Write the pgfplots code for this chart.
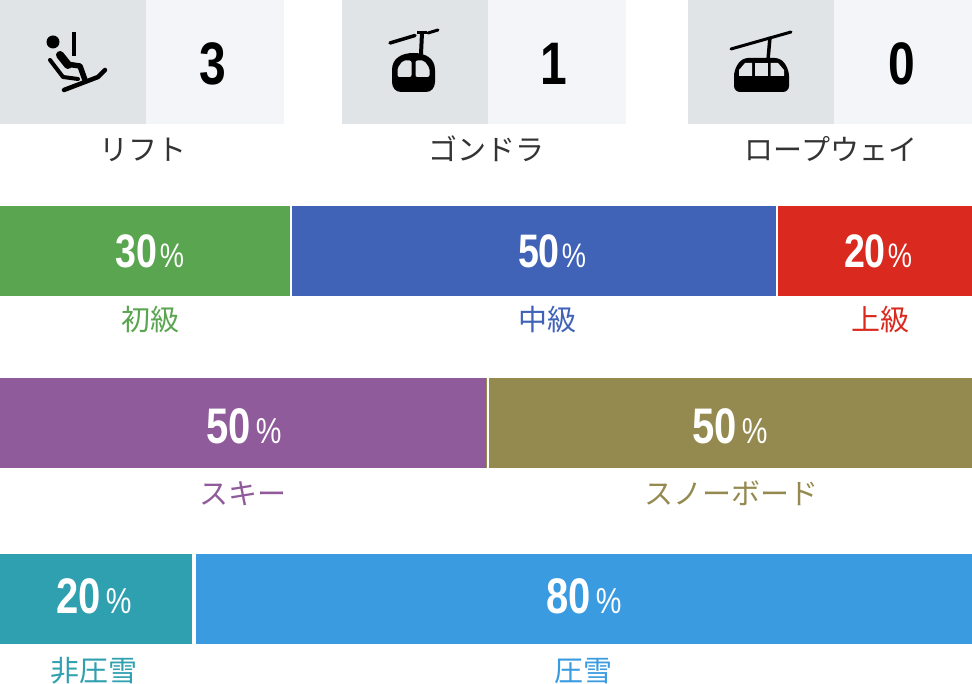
\documentclass[border=0pt]{standalone}
\usepackage{pgfplots}
\pgfplotsset{compat=1.18}
\usepackage{fontspec}
\setmainfont{Liberation Sans}
\newfontfamily\narrow[FakeStretch=0.8]{Liberation Sans}
\newfontfamily\cjk{Noto Sans CJK JP}
\definecolor{cGreen}{HTML}{5AA54F}
\definecolor{cBlue}{HTML}{4063B8}
\definecolor{cRed}{HTML}{DA291F}
\definecolor{cPurple}{HTML}{8F5B9A}
\definecolor{cOlive}{HTML}{948A50}
\definecolor{cTeal}{HTML}{2FA0AF}
\definecolor{cSky}{HTML}{3A9BE0}
\definecolor{tileD}{HTML}{E1E4E7}
\definecolor{tileL}{HTML}{F3F5F8}
\definecolor{txt}{HTML}{333333}
\pgfplotsset{
  rowbar/.style={
    at={(0pt,#1)}, anchor=south west, scale only axis, width=972pt, height=90pt,
    xmin=0, xmax=100, ymin=-0.5, ymax=0.5, hide axis, xbar stacked, bar width=90pt,
  }
}
\newcommand{\pct}[6]{% x, y, number, gap, %size, digit size
  \node[anchor=base, inner sep=0pt, text=white] at (axis cs:#1,#2)
    {\narrow\fontsize{#6}{#6}\selectfont\bfseries #3\hspace{#4}\fontsize{#5}{#5}\selectfont\mdseries\%};}
\newcommand{\lab}[4]{%
  \node[anchor=base, inner sep=0pt, text=#4] at (axis cs:#1,#2)
    {\cjk\fontsize{29}{29}\selectfont #3};}
\newcommand{\tilenum}[2]{%
  \node[anchor=base, inner sep=0pt, text=black] at (axis cs:#1,84.5)
    {\narrow\fontsize{60}{60}\selectfont\bfseries #2};}
\begin{document}
\begin{tikzpicture}
\path[use as bounding box] (0,0) rectangle (972pt,684pt);
% difficulty
\begin{axis}[rowbar=388pt]
\addplot[fill=cGreen, draw=none] coordinates {(30,0)};
\addplot[fill=cBlue, draw=none] coordinates {(50,0)};
\addplot[fill=cRed, draw=none] coordinates {(20,0)};
\end{axis}
% ski / snowboard
\begin{axis}[rowbar=216pt]
\addplot[fill=cPurple, draw=none] coordinates {(50,0)};
\addplot[fill=cOlive, draw=none] coordinates {(50,0)};
\end{axis}
% groomed
\begin{axis}[rowbar=40pt]
\addplot[fill=cTeal, draw=none] coordinates {(20,0)};
\addplot[fill=cSky, draw=none] coordinates {(80,0)};
\end{axis}
% pixel overlay: tiles, icons, text
\begin{axis}[at={(0pt,0pt)}, anchor=south west, scale only axis, width=972pt, height=684pt,
  xmin=0, xmax=972, ymin=0, ymax=684, y dir=reverse, hide axis, clip=false]
\addplot[fill=tileD, draw=none] coordinates {(0,0)(146,0)(146,124)(0,124)} --cycle;
\addplot[fill=tileL, draw=none] coordinates {(146,0)(284,0)(284,124)(146,124)} --cycle;
\addplot[fill=tileD, draw=none] coordinates {(342,0)(488,0)(488,124)(342,124)} --cycle;
\addplot[fill=tileL, draw=none] coordinates {(488,0)(626,0)(626,124)(488,124)} --cycle;
\addplot[fill=tileD, draw=none] coordinates {(688,0)(834,0)(834,124)(688,124)} --cycle;
\addplot[fill=tileL, draw=none] coordinates {(834,0)(972,0)(972,124)(834,124)} --cycle;
% white gaps between the bar segments
\draw[white, line width=2pt] (291,205) -- (291,297);
\draw[white, line width=2pt] (777,205) -- (777,297);
\draw[white, line width=2pt] (488,377) -- (488,469);
\draw[white, line width=4pt] (194,553) -- (194,645);
% chair lift icon
\fill[black] (53,42) circle[radius=6.5];
\draw[black, line width=4pt] (73.5,32) -- (73.5,56);
\draw[black, line width=8pt, line cap=round, line join=round] (60,55) -- (68,65);
\draw[black, line width=5.5pt, line join=round] (66,64) -- (80,66) -- (85,80);
\draw[black, line width=4pt, line cap=round, line join=round] (50,60) -- (63,77) -- (78,79);
\draw[black, line width=4.5pt, line cap=round, line join=round] (64,90) -- (98,77) -- (105,70);
% gondola icon
\draw[black, line width=3.5pt, line cap=round] (390,43) -- (415,35.5);
\draw[black, line width=3pt, line cap=round] (428,33) -- (438,30);
\draw[black, line width=3pt] (417,33) -- (427,33);
\draw[black, line width=4pt] (422,33) -- (421,54);
\fill[black] (392,70) .. controls (392,58) and (402,53) .. (413.5,53) .. controls (425,53) and (435,58) .. (435,70) -- (435,82) .. controls (435,88) and (431,92) .. (426,92) -- (401,92) .. controls (396,92) and (392,88) .. (392,82) -- cycle;
\fill[tileD, rounded corners=2pt] (397.5,77) -- (397.5,68) -- (403,60.5) -- (411.5,60.5) -- (411.5,77) -- cycle;
\fill[tileD, rounded corners=2pt] (415.5,77) -- (415.5,60.5) -- (424,60.5) -- (429.5,68) -- (429.5,77) -- cycle;
% ropeway icon
\draw[black, line width=3pt, line cap=round] (731,49) -- (791,32);
\draw[black, line width=3.5pt] (770,37) -- (768,60);
\fill[black, rounded corners=6pt] (734,92) -- (734,70) -- (742,58) -- (781,58) -- (789,70) -- (789,92) -- cycle;
\fill[tileD] (739,76) -- (739,70) -- (745,63) -- (752,63) -- (752,76) -- cycle;
\fill[tileD] (754.5,76) -- (754.5,63) -- (768,63) -- (768,76) -- cycle;
\fill[tileD] (770.5,76) -- (770.5,63) -- (778,63) -- (784,70) -- (784,76) -- cycle;
% tile numbers
\tilenum{213}{3}
\tilenum{554}{1}
\tilenum{902}{0}
% top labels
\lab{143}{161}{リフト}{txt}
\lab{486}{161}{ゴンドラ}{txt}
\lab{831}{161}{ロープウェイ}{txt}
% percent labels
\pct{150}{268}{30}{2pt}{34}{47}
\pct{552}{268}{50}{2pt}{34}{47}
\pct{878}{268}{20}{2pt}{34}{47}
\pct{244}{443}{50}{5pt}{36}{50}
\pct{730}{443}{50}{5pt}{36}{50}
\pct{94}{613}{20}{5pt}{36}{50}
\pct{584}{613}{80}{5pt}{36}{50}
% category labels
\lab{150}{331}{初級}{cGreen}
\lab{547}{331}{中級}{cBlue}
\lab{880}{331}{上級}{cRed}
\lab{243}{504}{スキー}{cPurple}
\lab{731}{504}{スノーボード}{cOlive}
\lab{94}{681}{非圧雪}{cTeal}
\lab{583}{681}{圧雪}{cSky}
\end{axis}
\end{tikzpicture}
\end{document}
